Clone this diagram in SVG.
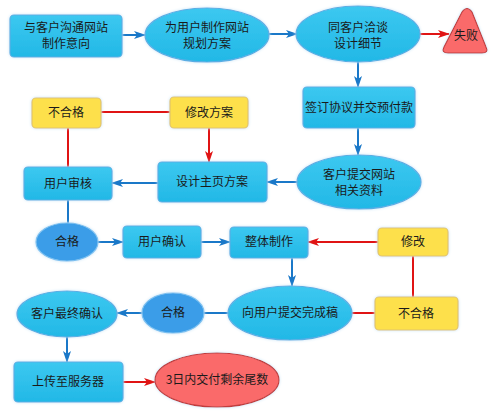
<svg xmlns="http://www.w3.org/2000/svg" width="494" height="413" viewBox="0 0 494 413">
<defs>
<filter id="glow" x="-20%" y="-20%" width="140%" height="140%">
<feGaussianBlur in="SourceAlpha" stdDeviation="1.5" result="b"/>
<feFlood flood-color="#c8e4f6" result="c"/>
<feComposite in="c" in2="b" operator="in" result="g"/>
<feMerge><feMergeNode in="g"/><feMergeNode in="SourceGraphic"/></feMerge>
</filter>
<linearGradient id="gb" x1="0" y1="0" x2="0" y2="1"><stop offset="0" stop-color="#3cc8f0"/><stop offset="1" stop-color="#22b8e6"/></linearGradient>
<marker id="ab" viewBox="0 0 12 8" refX="11" refY="4" markerWidth="12" markerHeight="8" markerUnits="userSpaceOnUse" orient="auto"><path d="M0,0 L12,4 L0,8 L3,4 Z" fill="#1a78c8"/></marker>
<marker id="ar" viewBox="0 0 12 8" refX="11" refY="4" markerWidth="12" markerHeight="8" markerUnits="userSpaceOnUse" orient="auto"><path d="M0,0 L12,4 L0,8 L3,4 Z" fill="#e01414"/></marker>
</defs>
<style>
.b{fill:url(#gb);stroke:#5aaee4;stroke-width:1.2;filter:url(#glow)}
.d{fill:#3a9de8;stroke:#7cc0f0;stroke-width:1.2;filter:url(#glow)}
.y{fill:#fde04c;stroke:#e2c46a;stroke-width:1.2;filter:url(#glow)}
.r{fill:#fa6b6b;stroke:#c03c3c;stroke-width:1.2;filter:url(#glow)}
.lb{stroke:#1a78c8;stroke-width:2;fill:none}
.lr{stroke:#e01414;stroke-width:2;fill:none}
text{font-family:"Noto Sans CJK SC","Liberation Sans",sans-serif;font-size:12px;fill:#1a1a1a;text-anchor:middle}
</style>
<g id="connectors">
<line class="lb" x1="122" y1="35" x2="145" y2="35" marker-end="url(#ab)"/>
<line class="lb" x1="268" y1="34" x2="297" y2="34" marker-end="url(#ab)"/>
<line class="lr" x1="420" y1="34" x2="449" y2="34" marker-end="url(#ar)"/>
<line class="lb" x1="358" y1="62" x2="358" y2="87" marker-end="url(#ab)"/>
<line class="lb" x1="358" y1="128" x2="358" y2="155" marker-end="url(#ab)"/>
<line class="lb" x1="297" y1="182" x2="267" y2="182" marker-end="url(#ab)"/>
<line class="lr" x1="209" y1="128" x2="209" y2="162" marker-end="url(#ar)"/>
<line class="lr" x1="101" y1="112" x2="170" y2="112"/>
<line class="lr" x1="68" y1="128" x2="68" y2="167"/>
<line class="lb" x1="158" y1="183" x2="112" y2="183" marker-end="url(#ab)"/>
<line class="lb" x1="68" y1="200" x2="68" y2="223"/>
<line class="lb" x1="98" y1="242" x2="123" y2="242" marker-end="url(#ab)"/>
<line class="lb" x1="201" y1="242" x2="230" y2="242" marker-end="url(#ab)"/>
<line class="lr" x1="378" y1="242" x2="308" y2="242" marker-end="url(#ar)"/>
<line class="lr" x1="413" y1="256" x2="413" y2="297"/>
<line class="lr" x1="375" y1="313" x2="352" y2="313"/>
<line class="lb" x1="292" y1="258" x2="292" y2="286" marker-end="url(#ab)"/>
<line class="lb" x1="228" y1="313" x2="204" y2="313"/>
<line class="lb" x1="143" y1="313" x2="117" y2="313" marker-end="url(#ab)"/>
<line class="lb" x1="67" y1="337" x2="67" y2="362" marker-end="url(#ab)"/>
<line class="lr" x1="123" y1="382" x2="155" y2="382" marker-end="url(#ar)"/>
</g>
<g id="n1"><rect class="b" x="10" y="15" width="112" height="42" rx="4"/><text x="66" y="32">与客户沟通网站</text><text x="66" y="48">制作意向</text></g>
<g id="n2"><ellipse class="b" cx="207" cy="35" rx="62" ry="27"/><text x="207" y="32">为用户制作网站</text><text x="207" y="48">规划方案</text></g>
<g id="n3"><ellipse class="b" cx="358" cy="34" rx="62" ry="28"/><text x="358" y="32">同客户洽谈</text><text x="358" y="48">设计细节</text></g>
<g id="n4"><path class="r" d="M462,12 Q467,5 472,12 L486,47 Q489,53 482,53 L448,53 Q441,53 444,47 Z"/><text x="466" y="40">失败</text></g>
<g id="n5"><rect class="b" x="303" y="87" width="112" height="41" rx="4"/><text x="359" y="112">签订协议并交预付款</text></g>
<g id="n6"><ellipse class="b" cx="359" cy="182" rx="62" ry="27"/><text x="359" y="179">客户提交网站</text><text x="359" y="195">相关资料</text></g>
<g id="n7"><rect class="b" x="158" y="162" width="109" height="40" rx="4"/><text x="212" y="186">设计主页方案</text></g>
<g id="n8"><rect class="y" x="170" y="97" width="78" height="31" rx="4"/><text x="209" y="117">修改方案</text></g>
<g id="n9"><rect class="y" x="32" y="98" width="69" height="30" rx="4"/><text x="66" y="117">不合格</text></g>
<g id="n10"><rect class="b" x="24" y="167" width="88" height="33" rx="4"/><text x="68" y="188">用户审核</text></g>
<g id="n11"><ellipse class="d" cx="67" cy="242" rx="31" ry="19"/><text x="67" y="246">合格</text></g>
<g id="n12"><rect class="b" x="123" y="226" width="78" height="32" rx="4"/><text x="162" y="246">用户确认</text></g>
<g id="n13"><rect class="b" x="230" y="227" width="78" height="31" rx="4"/><text x="269" y="246">整体制作</text></g>
<g id="n14"><rect class="y" x="378" y="228" width="70" height="28" rx="4"/><text x="413" y="246">修改</text></g>
<g id="n15"><rect class="y" x="375" y="297" width="83" height="33" rx="4"/><text x="416" y="318">不合格</text></g>
<g id="n16"><ellipse class="b" cx="290" cy="313" rx="62" ry="27"/><text x="290" y="317">向用户提交完成稿</text></g>
<g id="n17"><ellipse class="d" cx="173" cy="313" rx="31" ry="20"/><text x="173" y="317">合格</text></g>
<g id="n18"><ellipse class="b" cx="67" cy="314" rx="50" ry="23"/><text x="67" y="318">客户最终确认</text></g>
<g id="n19"><rect class="b" x="14" y="362" width="109" height="40" rx="4"/><text x="68" y="386">上传至服务器</text></g>
<g id="n20"><ellipse class="r" cx="217" cy="380" rx="62" ry="27"/><text x="217" y="384">3日内交付剩余尾数</text></g>
</svg>
